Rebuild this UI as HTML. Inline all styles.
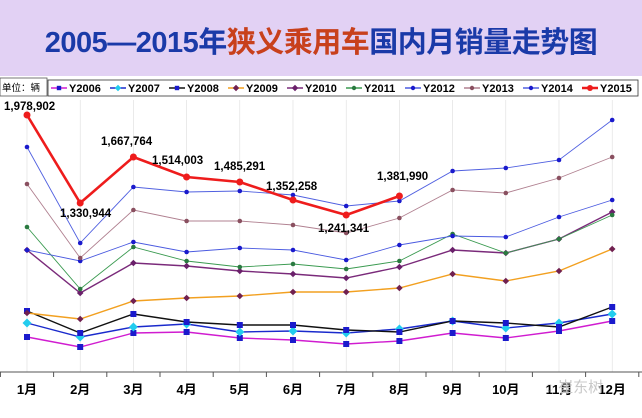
<!DOCTYPE html><html><head><meta charset="utf-8"><style>
body{margin:0;width:642px;height:413px;overflow:hidden;background:#fff;font-family:"Liberation Sans","Noto Sans CJK SC",sans-serif}
</style></head><body>
<svg width="642" height="413" xmlns="http://www.w3.org/2000/svg" font-family="Liberation Sans, Noto Sans CJK SC, sans-serif">
<rect x="0" y="0" width="642" height="76" fill="#e2d1f4"/>
<text x="321" y="52" text-anchor="middle" font-size="29" font-weight="bold" fill="#1a3aa8" style="letter-spacing:-0.5px">2005—2015年<tspan fill="#c8401c">狭义乘用车</tspan>国内月销量走势图</text>
<rect x="0" y="78" width="47" height="18" fill="#fff" stroke="#555" stroke-width="0.8"/>
<text x="2" y="91" font-size="9.5" fill="#000">单位：辆</text>
<rect x="48" y="80" width="590" height="16" fill="#fff" stroke="#333" stroke-width="0.8"/>
<g font-size="11" font-weight="bold" fill="#000">
<g id="lg"></g>
</g>
<g id="grid" stroke="#ddd" stroke-width="0.6"></g>
<line x1="0" y1="372" x2="642" y2="372" stroke="#555" stroke-width="1"/>
<g id="ticks" stroke="#555"></g>
<g id="months" font-size="13" font-weight="bold" fill="#000" text-anchor="middle"></g>
<g id="series"></g>
<g font-size="11.5" font-weight="bold" fill="#000">
<text x="4" y="110">1,978,902</text>
<text x="60" y="217">1,330,944</text>
<text x="101" y="145">1,667,764</text>
<text x="152" y="164">1,514,003</text>
<text x="214" y="170">1,485,291</text>
<text x="266" y="190">1,352,258</text>
<text x="318" y="232">1,241,341</text>
<text x="377" y="180">1,381,990</text>
</g>
<text x="545" y="392" font-size="15" fill="#c8c8c8">◌ 崔东树</text>
<script>
var X=[],ns="http://www.w3.org/2000/svg";for(var i=0;i<12;i++)X.push(27+i*53.2);
function el(p,t,a,txt){var e=document.createElementNS(ns,t);for(var k in a)e.setAttribute(k,a[k]);if(txt)e.textContent=txt;document.getElementById(p).appendChild(e);return e}
X.forEach(function(x,i){el('grid','line',{x1:x,y1:100,x2:x,y2:372});el('months','text',{x:x,y:394},(i+1)+'月');});
for(var i=0;i<=12;i++){var x=0.4+i*53.2;el('ticks','line',{x1:x,y1:372,x2:x,y2:377});}
var S=[
["#d01cd0","#1a1acc","sq",[337,347,333,332,338,340,344,341,333,338,331,321]],
["#1a2acc","#22ccee","di",[323,337,327,324,332,331,333,329,321,328,323,314]],
["#111","#1a1acc","sq",[311,333,314,322,325,325,330,332,321,323,327,307]],
["#f2a020","#702050","di",[313,319,301,298,296,292,292,288,274,281,271,249]],
["#7a2a7a","#6a206a","di",[250,293,263,266,271,274,278,267,250,253,239,212]],
["#3a9a50","#2a7a40","ci",[227,289,247,261,267,264,269,261,234,253,239,215]],
["#4a5ae0","#1a1acc","ci",[250,261,242,252,248,250,260,245,236,237,217,200]],
["#b08090","#8a5060","ci",[184,258,210,221,221,225,233,218,190,193,178,157]],
["#5060e0","#1a1acc","ci",[147,243,187,192,191,195,206,201,171,168,160,120]],
["#ee1c1c","#ee1c1c","ci",[115,203,157,177,182,200,215,196]]];
var names=["Y2006","Y2007","Y2008","Y2009","Y2010","Y2011","Y2012","Y2013","Y2014","Y2015"];
function mk(p,s,x,y,r){if(s[2]=="sq")el(p,'rect',{x:x-r,y:y-r,width:2*r,height:2*r,fill:s[1]});else if(s[2]=="di")el(p,'polygon',{points:(x)+','+(y-r-1)+' '+(x+r+1)+','+y+' '+x+','+(y+r+1)+' '+(x-r-1)+','+y,fill:s[1]});else el(p,'circle',{cx:x,cy:y,r:r,fill:s[1]});}
S.forEach(function(s,k){var w=k==9?2.6:(k<=4?1.4:0.9);var pts=s[3].map(function(y,i){return X[i]+','+y}).join(' ');
el('series','polyline',{points:pts,fill:'none',stroke:s[0],'stroke-width':w});
var r=k==9?3.5:(k<=2?3:2.3);if(k==1)r=3.5;s[3].forEach(function(y,i){mk('series',s,X[i],y,r)});
var lx=51+k*59;el('lg','line',{x1:lx,y1:88,x2:lx+16,y2:88,stroke:s[0],'stroke-width':k==9?2.5:1.5});mk('lg',s,lx+8,88,k==9?3:2.2);
el('lg','text',{x:lx+18,y:92},names[k]);});
</script>
</svg></body></html>
